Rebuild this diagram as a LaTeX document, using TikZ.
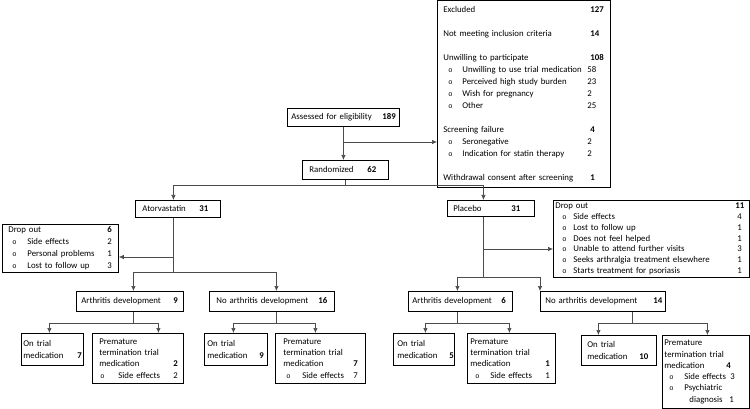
\documentclass[tikz,border=0pt]{standalone}
\usepackage{fontspec}
\setmainfont{Carlito}
\setmonofont{Liberation Mono}
\usetikzlibrary{shapes,arrows.meta,positioning}

%% one line: label in a box of fixed width, then the count
\newcommand{\tabrow}[3]{\makebox[#1][l]{#2}#3}
%% sub item: indent, small o, gap to the text
\newcommand{\bul}[2]{\hspace*{#1}\makebox[#2][l]{{\fontsize{7}{7}\selectfont\ttfamily o}}}

\tikzset{
  box/.style={draw=black, line width=0.8pt, anchor=north west, align=left,
    inner ysep=0pt, font=\fontsize{8.8}{11.3}\selectfont},
  line/.style={draw=black!70, line width=0.7pt},
  arr/.style={line, -{Latex[length=5pt,width=4.5pt]}}
}

\begin{document}
\begin{tikzpicture}[x=1pt,y=-1pt]
  \useasboundingbox (0,0) rectangle (750,409);

  %%screening
  \node[box, minimum width=112pt, minimum height=18pt, inner xsep=4pt, text width=104pt] (assess) at (287,108)
    {\tabrow{91pt}{Assessed for eligibility}{\textbf{189}}};
  \node[box, minimum width=86pt, minimum height=19pt, inner xsep=7pt, text width=72pt] (rand) at (302,160)
    {\tabrow{58pt}{Randomized}{\textbf{62}}};

  \node[box, minimum width=173pt, minimum height=187pt, inner xsep=6pt, text width=161pt,
        font=\fontsize{8.8}{12}\selectfont] (excl) at (437,0) {%
    \tabrow{147pt}{Excluded}{\textbf{127}}\\[12pt]
    \tabrow{147pt}{Not meeting inclusion criteria}{\textbf{14}}\\[12pt]
    \tabrow{147pt}{Unwilling to participate}{\textbf{108}}\\
    \tabrow{144pt}{\bul{5pt}{14pt}Unwilling to use trial medication}{58}\\
    \tabrow{144pt}{\bul{5pt}{14pt}Perceived high study burden}{23}\\
    \tabrow{144pt}{\bul{5pt}{14pt}Wish for pregnancy}{2}\\
    \tabrow{144pt}{\bul{5pt}{14pt}Other}{25}\\[12pt]
    \tabrow{147pt}{Screening failure}{\textbf{4}}\\
    \tabrow{144pt}{\bul{5pt}{14pt}Seronegative}{2}\\
    \tabrow{144pt}{\bul{5pt}{14pt}Indication for statin therapy}{2}\\[12pt]
    \tabrow{147pt}{Withdrawal consent after screening}{\textbf{1}}};

  %%arms
  \node[box, minimum width=85pt, minimum height=17pt, inner xsep=7pt, text width=71pt] (ator) at (135,200)
    {\tabrow{57pt}{Atorvastatin}{\textbf{31}}};
  \node[box, minimum width=87pt, minimum height=16pt, inner xsep=6pt, text width=75pt] (plac) at (447,200)
    {\tabrow{58pt}{Placebo}{\textbf{31}}};

  \node[box, minimum width=116pt, minimum height=48pt, inner xsep=6pt, text width=104pt,
        font=\fontsize{8.8}{11.8}\selectfont] (dropA) at (2,224) {%
    \tabrow{99pt}{Drop out}{\textbf{6}}\\
    \tabrow{99pt}{\bul{4pt}{15pt}Side effects}{2}\\
    \tabrow{99pt}{\bul{4pt}{15pt}Personal problems}{1}\\
    \tabrow{99pt}{\bul{4pt}{15pt}Lost to follow up}{3}};
  \node[box, minimum width=196pt, minimum height=77pt, inner xsep=2pt, text width=192pt,
        font=\fontsize{8.8}{10.7}\selectfont] (dropP) at (553,200) {%
    \tabrow{180pt}{Drop out}{\textbf{11}}\\
    \tabrow{182pt}{\bul{7pt}{11pt}Side effects}{4}\\
    \tabrow{182pt}{\bul{7pt}{11pt}Lost to follow up}{1}\\
    \tabrow{182pt}{\bul{7pt}{11pt}Does not feel helped}{1}\\
    \tabrow{182pt}{\bul{7pt}{11pt}Unable to attend further visits}{3}\\
    \tabrow{182pt}{\bul{7pt}{11pt}Seeks arthralgia treatment elsewhere}{1}\\
    \tabrow{182pt}{\bul{7pt}{11pt}Starts treatment for psoriasis}{1}};

  %%outcome
  \node[box, minimum width=107pt, minimum height=20pt, inner xsep=5pt, text width=97pt] (arthA) at (76,291)
    {\tabrow{92pt}{Arthritis development}{\textbf{9}}};
  \node[box, minimum width=125pt, minimum height=20pt, inner xsep=7pt, text width=111pt] (noarthA) at (209,291)
    {\tabrow{102pt}{No arthritis development}{\textbf{16}}};
  \node[box, minimum width=104pt, minimum height=20pt, inner xsep=4pt, text width=96pt] (arthP) at (408,291)
    {\tabrow{89pt}{Arthritis development}{\textbf{6}}};
  \node[box, minimum width=125pt, minimum height=20pt, inner xsep=5pt, text width=115pt] (noarthP) at (540,291)
    {\tabrow{108pt}{No arthritis development}{\textbf{14}}};

  %%medication
  \node[box, minimum width=62pt, minimum height=32pt, inner xsep=2pt, text width=58pt] (onA1) at (21,333)
    {On trial\\ \tabrow{54pt}{medication}{\textbf{7}}};
  \node[box, minimum width=91pt, minimum height=50pt, inner xsep=7pt, text width=77pt] (preA1) at (92,333)
    {Premature\\ termination trial\\ \tabrow{74pt}{medication}{\textbf{2}}\\
     \tabrow{74pt}{\bul{1pt}{18pt}Side effects}{2}};
  \node[box, minimum width=63pt, minimum height=32pt, inner xsep=3pt, text width=57pt] (onA2) at (204,333)
    {On trial\\ \tabrow{52pt}{medication}{\textbf{9}}};
  \node[box, minimum width=90pt, minimum height=50pt, inner xsep=8pt, text width=74pt] (preA2) at (275,333)
    {Premature\\ termination trial\\ \tabrow{70pt}{medication}{\textbf{7}}\\
     \tabrow{70pt}{\bul{3pt}{16pt}Side effects}{7}};
  \node[box, minimum width=61pt, minimum height=32pt, inner xsep=4pt, text width=53pt] (onP1) at (393,333)
    {On trial\\ \tabrow{52pt}{medication}{\textbf{5}}};
  \node[box, minimum width=88pt, minimum height=50pt, inner xsep=3pt, text width=82pt] (preP1) at (467,333)
    {Premature\\ termination trial\\ \tabrow{75pt}{medication}{\textbf{1}}\\
     \tabrow{75pt}{\bul{5pt}{15pt}Side effects}{1}};
  \node[box, minimum width=75pt, minimum height=30pt, inner xsep=6pt, text width=63pt] (onP2) at (581,335)
    {On trial\\ \tabrow{52pt}{medication}{\textbf{10}}};
  \node[box, minimum width=87pt, minimum height=73pt, inner xsep=2pt, text width=83pt] (preP2) at (662,335)
    {Premature\\ termination trial\\ \tabrow{62pt}{medication}{\textbf{4}}\\
     \tabrow{66pt}{\bul{5pt}{15pt}Side effects}{3}\\
     \tabrow{66pt}{\bul{5pt}{15pt}Psychiatric}{}\\
     \tabrow{65pt}{\hspace*{25pt}diagnosis}{1}};

  %%connectors
  \coordinate (exbr) at (343,142);
  \draw[arr] (assess.south) -- (assess.south |- rand.north);
  \draw[arr] (exbr) -- (exbr -| excl.west);
  \draw[arr] (rand.south) -- ++(0,6) -| ([xshift=-4.5pt]ator.north);
  \draw[arr] (rand.south) -- ++(0,6) -| ([xshift=-7.5pt]plac.north);

  \coordinate (abr) at (173,257);
  \draw[arr] (abr) -- (abr -| dropA.east);
  \draw[arr] ([xshift=-4.5pt]ator.south) -- ++(0,55) -| ([xshift=3.5pt]arthA.north);
  \draw[arr] ([xshift=-4.5pt]ator.south) -- ++(0,55) -| ([xshift=4.5pt]noarthA.north);

  \coordinate (pbr) at (483,249);
  \draw[arr] (pbr) -- (pbr -| dropP.west);
  \draw[arr] ([xshift=-7.5pt]plac.south) -- ++(0,61) -| ([xshift=-3pt]arthP.north);
  \draw[arr] ([xshift=-7.5pt]plac.south) -- ++(0,61) -| (noarthP.north west);

  \draw[arr] ([xshift=3.5pt]arthA.south) -- ++(0,12) -| ([xshift=-3pt]onA1.north);
  \draw[arr] ([xshift=3.5pt]arthA.south) -- ++(0,12) -| ([xshift=20.5pt]preA1.north);
  \draw[arr] ([xshift=4.5pt]noarthA.south) -- ++(0,12) -| ([xshift=-2.5pt]onA2.north);
  \draw[arr] ([xshift=4.5pt]noarthA.south) -- ++(0,12) -| ([xshift=-5pt]preA2.north);
  \draw[arr] ([xshift=-3pt]arthP.south) -- ++(0,12) -| ([xshift=1.5pt]onP1.north);
  \draw[arr] ([xshift=-3pt]arthP.south) -- ++(0,12) -| ([xshift=-2pt]preP1.north);
  \draw[arr] ([xshift=29.5pt]noarthP.south) -- ++(0,12) -| ([xshift=-20.5pt]onP2.north);
  \draw[arr] ([xshift=29.5pt]noarthP.south) -- ++(0,12) -| ([xshift=1.5pt]preP2.north);
\end{tikzpicture}
\end{document}
